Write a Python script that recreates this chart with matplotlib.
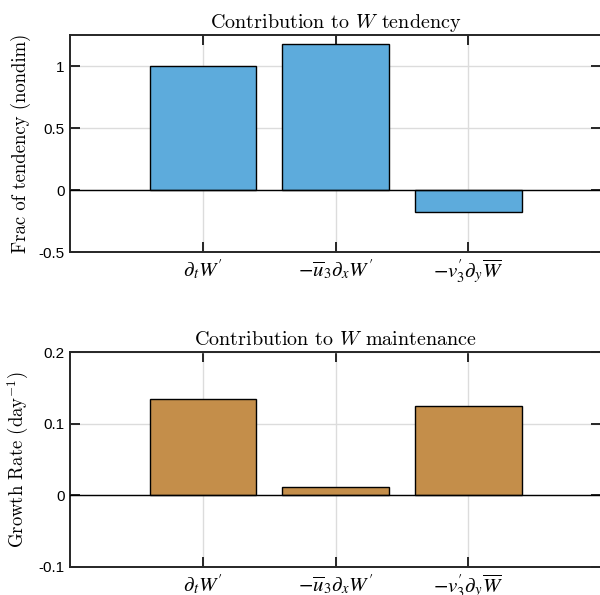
import matplotlib
matplotlib.use("Agg")
import matplotlib.pyplot as plt

categories = [r"$\partial_t W'$", r"$-\overline{u}_3\partial_x W'$", r"$-v_3'\partial_y\overline{W}$"]
tendency = [1.0, 1.18, -0.18]
maintenance = [0.135, 0.012, 0.124]
top_yticks = [-0.5, 0, 0.5, 1]
top_yticklabels = ["-0.5", "0", "0.5", "1"]
bot_yticks = [-0.1, 0, 0.1, 0.2]
bot_yticklabels = ["-0.1", "0", "0.1", "0.2"]

fig = plt.figure(figsize=(6, 5.95), dpi=100)
ax1 = fig.add_axes([70/600, (595-252)/595, 1.002 - 70/600, (252-35)/595])
ax2 = fig.add_axes([70/600, (595-567)/595, 1.002 - 70/600, (567-352)/595])

x = [1, 2, 3]
spine_col = "#262626"

def style(ax, yticks, ylabels, ylim, title, ylabel, vals, color):
    ax.set_axisbelow(True)
    ax.bar(x, vals, width=0.8, color=color, edgecolor="k", linewidth=1.0, zorder=2)
    ax.axhline(0, color="k", lw=1.0, zorder=3)
    ax.set_xlim(0, 4)
    ax.set_ylim(*ylim)
    ax.set_xticks(x)
    ax.set_xticklabels(categories, fontsize=15, math_fontfamily="stix")
    ax.set_yticks(yticks)
    ax.set_yticklabels(ylabels, fontsize=11, family="Liberation Sans")
    ax.grid(True, color="#dcdcdc", lw=1.0)
    ax.tick_params(direction="in", length=7, width=1.4, top=True, right=True,
                   color=spine_col, pad=4)
    ax.tick_params(axis="x", pad=4)
    for s in ax.spines.values():
        s.set_linewidth(1.4)
        s.set_color(spine_col)
    ax.set_title(title, family="cmr10", math_fontfamily="cm", fontsize=14.5, pad=5)
    ax.set_ylabel(ylabel, family="cmr10", math_fontfamily="cm", fontsize=13.5, labelpad=5)

style(ax1, top_yticks, top_yticklabels, (-0.5, 1.25),
      r"Contribution to $W$ tendency", "Frac of tendency (nondim)",
      tendency, "#5DABDC")
style(ax2, bot_yticks, bot_yticklabels, (-0.1, 0.2),
      r"Contribution to $W$ maintenance", r"Growth Rate (day$^{-1}$)",
      maintenance, "#C48E4A")

fig.savefig("out.png", dpi=100)
